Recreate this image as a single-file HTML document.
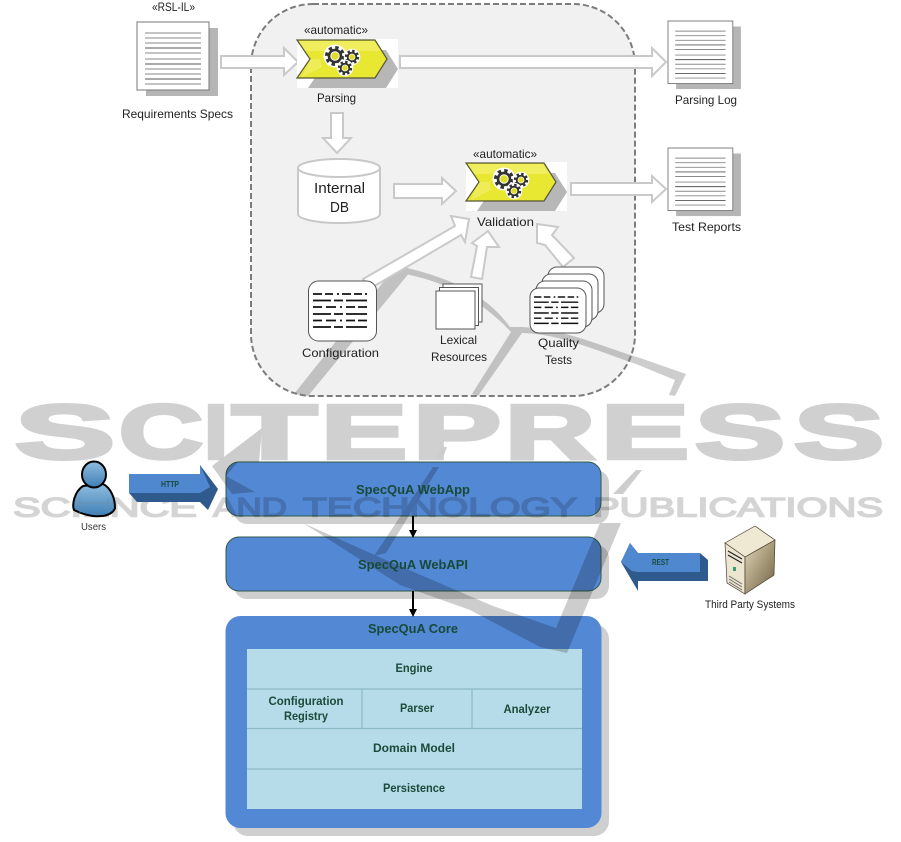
<!DOCTYPE html>
<html><head><meta charset="utf-8"><style>
html,body{margin:0;padding:0;background:#fff;width:901px;height:842px;overflow:hidden}
svg{display:block}
text{font-family:"Liberation Sans",sans-serif}
.l{font-size:12px;fill:#222}
.b{font-size:12px;font-weight:bold;fill:#1b4a3a;text-anchor:middle}
.h{font-size:13px;font-weight:bold;fill:#174a38;text-anchor:middle}
.wa{fill:#fff;stroke:#c9c9c9;stroke-width:2}
.dl{stroke:#111;stroke-width:1.8;fill:none}
</style></head><body>
<svg width="901" height="842" viewBox="0 0 901 842" xmlns="http://www.w3.org/2000/svg">
<defs>
<linearGradient id="blue" x1="0" y1="0" x2="0" y2="1"><stop offset="0" stop-color="#8fbde0"/><stop offset="1" stop-color="#3f7fb5"/></linearGradient>
<linearGradient id="tan" x1="0" y1="0" x2="1" y2="1"><stop offset="0" stop-color="#e0d6b8"/><stop offset="1" stop-color="#6f6040"/></linearGradient>
<g id="gear">
<circle r="11.500" fill="#fff"/>
<circle r="8" fill="none" stroke="#333" stroke-width="4" stroke-dasharray="3.2 3.08"/>
<circle r="6" fill="none" stroke="#333" stroke-width="2.6"/>
<circle r="3.800" fill="#dede2a"/>
</g>
<g id="chev">
<rect x="297" y="39" width="101" height="49" fill="#fff"/>
<polygon points="308,50 386,50 398,69 386,88 308,88 321,69" fill="#b7b7b7"/>
<polygon points="297,40 375,40 387,59 375,78 297,78 310,59" fill="#e8e832"/>
<polygon points="299,41 374,41 381,51 305,51" fill="#f0ee5c"/>
<polygon points="310,59 302,77 322,67 320,59" fill="#f3f17a" opacity=".55"/>
<polygon points="297,40 375,40 387,59 375,78 297,78 310,59" fill="none" stroke="#56563a" stroke-width="1.2"/>
<use href="#gear" transform="translate(335,56) scale(1)"/>
<use href="#gear" transform="translate(352,57) scale(.72)"/>
<use href="#gear" transform="translate(345,68) scale(.72)"/>
</g>
<g id="doc">
<rect x="9" y="6" width="72" height="68" fill="#b5b5b5"/>
<rect x="0" y="0" width="72" height="68" fill="#fff" stroke="#777" stroke-width="1"/>
<g stroke="#8a8a8a" stroke-width="1">
<path d="M8 11H64M8 16H64M8 21H64M8 31H64M8 37H64M8 47H64M8 52H64M8 62H64"/>
<path d="M8 26H64M8 42H64M8 57H64" stroke="#555"/>
</g>
</g>
<g id="dash">
<path class="dl" d="M0 0h9M12 0h8M24 0h2M29 0h9M41 0h8M52 0h2"/>
<path class="dl" d="M0 6.5h18M21 6.5h9M33 6.5h21"/>
<path class="dl" d="M0 13h9M13 13h10M27 13h2M33 13h9M45 13h9"/>
<path class="dl" d="M0 20h18M21 20h9M33 20h21"/>
<path class="dl" d="M0 26.500h9M13 26.500h10M27 26.500h2M33 26.500h9M45 26.500h9"/>
<path class="dl" d="M0 33h18M21 33h9M33 33h21"/>
</g>
</defs>

<rect width="901" height="842" fill="#fff"/>
<rect x="251" y="4" width="384" height="392" rx="62" fill="#f1f1f1"/>

<!-- lower box shadows and boxes -->
<rect x="234" y="470" width="375" height="54" rx="13" fill="#cfcfcf"/>
<rect x="234" y="545" width="375" height="54" rx="13" fill="#cfcfcf"/>
<rect x="233" y="624" width="376" height="212" rx="15" fill="#cfcfcf"/>
<rect x="226" y="462" width="375" height="54" rx="13" fill="#5388d4" stroke="#2c5a48"/>
<rect x="226" y="537" width="375" height="54" rx="13" fill="#5388d4" stroke="#2c5a48"/>
<rect x="225.500" y="616" width="376" height="212" rx="15" fill="#5388d4"/>
<rect x="247" y="649" width="335" height="160" fill="#b5dce8"/>

<!-- watermark -->
<g style="mix-blend-mode:multiply">
<g fill="#d0d0d0" stroke="#d0d0d0" stroke-width="3.500" font-weight="bold" font-size="77" stroke-linejoin="miter">
<text x="15" y="458.500" textLength="100" lengthAdjust="spacingAndGlyphs">S</text>
<text x="119" y="458.500" textLength="84" lengthAdjust="spacingAndGlyphs">C</text>
<text x="204" y="458.500" textLength="24" lengthAdjust="spacingAndGlyphs">I</text>
<text x="232" y="458.500" textLength="85" lengthAdjust="spacingAndGlyphs">T</text>
<text x="321" y="458.500" textLength="86" lengthAdjust="spacingAndGlyphs">E</text>
<text x="413" y="458.500" textLength="88" lengthAdjust="spacingAndGlyphs">P</text>
<text x="505" y="458.500" textLength="90" lengthAdjust="spacingAndGlyphs">R</text>
<text x="601" y="458.500" textLength="88" lengthAdjust="spacingAndGlyphs">E</text>
<text x="695" y="458.500" textLength="90" lengthAdjust="spacingAndGlyphs">S</text>
<text x="794" y="458.500" textLength="90" lengthAdjust="spacingAndGlyphs">S</text>
</g>
<g fill="#d4d4d4" stroke="#d4d4d4" stroke-width="1.500" font-size="27">
<text x="13" y="516.500" textLength="184" lengthAdjust="spacingAndGlyphs">SCIENCE</text>
<text x="213" y="516.500" textLength="74" lengthAdjust="spacingAndGlyphs">AND</text>
<text x="303" y="516.500" textLength="274" lengthAdjust="spacingAndGlyphs">TECHNOLOGY</text>
<text x="593" y="516.500" textLength="290" lengthAdjust="spacingAndGlyphs">PUBLICATIONS</text>
</g>
<g fill="#cdcdcd">
<polygon points="396,266 410,272 308,396 294,394"/>
<path d="M398 266C445 276 485 292 510 327L522 327C565 329 600 346 640 358L686 374L675 396L669 395L675 380L636 364C595 350 560 334 522 333L478 396L472 394L511 332C480 298 440 280 400 273Z"/>
<polygon points="447,447 442,460 436,458 441,447"/>
<polygon points="433,467 439,467 386,553 374,556"/>
<polygon points="636,470 642,470 623,494 613,494"/>
<polygon points="262,428 259,462 238,462 226,476 255,492 232,494 212,466"/>
<path d="M303 523L377 556L430 579L493 606L556 628L600 523L621 523L567 653L540 647L470 610L400 585L350 553Z"/>
</g>
</g>

<!-- panel border -->
<rect x="251" y="4" width="384" height="392" rx="62" fill="none" stroke="#7c7c7c" stroke-width="2" stroke-dasharray="6 3"/>

<!-- top documents -->
<use href="#doc" transform="translate(137,22)"/>
<use href="#doc" transform="translate(668,21) scale(.9,.92)"/>
<use href="#doc" transform="translate(668,148) scale(.9,.92)"/>

<!-- white arrows -->
<polygon class="wa" points="221,56 284,56 284,48 298,62 284,75 284,68 221,68"/>
<polygon class="wa" points="400,56 652,56 652,48 666,62 652,76 652,68 400,68"/>
<polygon class="wa" points="331,113 343,113 343,138 351,138 337,153 323,138 331,138"/>
<polygon class="wa" points="394,184 442,184 442,178 456,191 442,204 442,198 394,198"/>
<polygon class="wa" points="571,183 652,183 652,176 666,189 652,202 652,195 571,195"/>
<polygon class="wa" points="363,279 455,226 451,216 469,219 465,242 461,235 371,288"/>
<polygon class="wa" points="471,277 477,246 472,243 488,231 499,247 487,247 482,279"/>
<polygon class="wa" points="537,224 558,227 552,235 574,258 563,267 545,245 537,243"/>

<!-- chevrons -->
<use href="#chev"/>
<use href="#chev" transform="translate(169,123)"/>

<!-- DB -->
<path d="M298 168V214C298 219 316 223 339 223C362 223 380 219 380 214V168Z" fill="#fff" stroke="#c8c8c8" stroke-width="2"/>
<ellipse cx="339" cy="168" rx="41" ry="9" fill="#fff" stroke="#c8c8c8" stroke-width="2"/>
<text x="314" y="193" style="font-size:14.500px" fill="#222" textLength="51" lengthAdjust="spacingAndGlyphs">Internal</text>
<text x="330" y="212" style="font-size:14.500px" fill="#222" textLength="19" lengthAdjust="spacingAndGlyphs">DB</text>

<!-- configuration -->
<rect x="308.500" y="281" width="68" height="60" rx="10" fill="#fff" stroke="#555"/>
<use href="#dash" transform="translate(313,294)"/>

<!-- lexical -->
<rect x="443" y="284" width="39" height="38" fill="#fff" stroke="#555"/>
<rect x="439.500" y="287.500" width="39" height="38" fill="#fff" stroke="#555"/>
<rect x="436" y="291" width="39" height="38" fill="#fff" stroke="#555"/>

<!-- quality -->
<rect x="548" y="267" width="56" height="46" rx="9" fill="#fff" stroke="#555"/>
<rect x="542" y="274" width="56" height="46" rx="9" fill="#fff" stroke="#555"/>
<rect x="536" y="281" width="56" height="46" rx="9" fill="#fff" stroke="#555"/>
<rect x="530" y="288" width="56" height="45" rx="9" fill="#fff" stroke="#555"/>
<use href="#dash" transform="translate(534,297) scale(.82,.8)"/>

<!-- top labels -->
<text class="l" x="152" y="11" textLength="43" lengthAdjust="spacingAndGlyphs">«RSL-IL»</text>
<text class="l" x="122" y="118" textLength="111" lengthAdjust="spacingAndGlyphs">Requirements Specs</text>
<text class="l" x="304" y="34" textLength="64" lengthAdjust="spacingAndGlyphs">«automatic»</text>
<text class="l" x="473" y="158" textLength="64" lengthAdjust="spacingAndGlyphs">«automatic»</text>
<text class="l" x="317" y="102" textLength="39" lengthAdjust="spacingAndGlyphs">Parsing</text>
<text class="l" x="477" y="226" textLength="57" lengthAdjust="spacingAndGlyphs">Validation</text>
<text class="l" x="675" y="104" textLength="62" lengthAdjust="spacingAndGlyphs">Parsing Log</text>
<text class="l" x="672" y="231" textLength="69" lengthAdjust="spacingAndGlyphs">Test Reports</text>
<text class="l" x="302" y="357" textLength="77" lengthAdjust="spacingAndGlyphs">Configuration</text>
<text class="l" x="440" y="344" textLength="37" lengthAdjust="spacingAndGlyphs">Lexical</text>
<text class="l" x="431" y="361" textLength="56" lengthAdjust="spacingAndGlyphs">Resources</text>
<text class="l" x="538" y="347" textLength="41" lengthAdjust="spacingAndGlyphs">Quality</text>
<text class="l" x="545" y="364" textLength="27" lengthAdjust="spacingAndGlyphs">Tests</text>

<!-- lower box connectors -->
<path d="M413 516V531M413 591V610" stroke="#000" stroke-width="2"/>
<polygon points="409,530 417,530 413,538" fill="#000"/>
<polygon points="409,609 417,609 413,617" fill="#000"/>

<!-- box text -->
<text class="h" x="413" y="494" textLength="114" lengthAdjust="spacingAndGlyphs">SpecQuA WebApp</text>
<text class="h" x="413" y="569" textLength="110" lengthAdjust="spacingAndGlyphs">SpecQuA WebAPI</text>
<text class="h" x="413" y="633" textLength="90" lengthAdjust="spacingAndGlyphs">SpecQuA Core</text>

<!-- inner table -->
<path d="M247 689H582M247 728.500H582M247 769H582M362 689V728.500M472 689V728.500" stroke="#8db9c2" stroke-width="1.200" fill="none"/>
<text class="b" x="414" y="672" textLength="37" lengthAdjust="spacingAndGlyphs">Engine</text>
<text class="b" x="306" y="705" textLength="75" lengthAdjust="spacingAndGlyphs">Configuration</text>
<text class="b" x="306" y="720" textLength="44" lengthAdjust="spacingAndGlyphs">Registry</text>
<text class="b" x="417" y="712" textLength="34" lengthAdjust="spacingAndGlyphs">Parser</text>
<text class="b" x="527" y="713" textLength="47" lengthAdjust="spacingAndGlyphs">Analyzer</text>
<text class="b" x="414" y="752" textLength="82" lengthAdjust="spacingAndGlyphs">Domain Model</text>
<text class="b" x="414" y="792" textLength="62" lengthAdjust="spacingAndGlyphs">Persistence</text>

<!-- HTTP arrow -->
<polygon points="129,493 137,502 200,502 208,510 218,489 200,465 200,493" fill="#2f5a8e"/>
<polygon points="129,474 200,474 200,465 210,487 200,493 129,493" fill="#5088d0"/>
<text x="161" y="487" style="font-size:8px" font-weight="bold" fill="#174a38" textLength="18" lengthAdjust="spacingAndGlyphs">HTTP</text>

<!-- REST arrow -->
<polygon points="700,553 708,560 708,581 638,581 638,591 621,562 630,543 638,553" fill="#2f5a8e"/>
<polygon points="621,562 630,543 638,553 700,553 700,572 638,572 632,571" fill="#5088d0"/>
<text x="652" y="565" style="font-size:8px" font-weight="bold" fill="#174a38" textLength="17" lengthAdjust="spacingAndGlyphs">REST</text>

<!-- user -->
<path d="M83 486C74 492 72 505 74 510C82 514 92 517 101 516C108 516 114 512 115 508C115 498 111 488 103 484Z" fill="url(#blue)" stroke="#000" stroke-width="2"/>
<ellipse cx="94" cy="474.500" rx="12" ry="13" fill="url(#blue)" stroke="#000" stroke-width="2"/>
<path d="M80 498V513M108 498V512M78 503H110" stroke="#6f8fa8" stroke-width=".7" fill="none"/>
<text x="81" y="530" style="font-size:10.500px" fill="#333" textLength="25" lengthAdjust="spacingAndGlyphs">Users</text>

<!-- server -->
<polygon points="755,526 775,540 745,557 725,543" fill="#efe8d2" stroke="#4a4030" stroke-width=".7"/>
<polygon points="725,543 745,557 745,594 727,583" fill="#ece5cf" stroke="#4a4030" stroke-width=".7"/>
<polygon points="745,557 775,540 774,575 745,594" fill="url(#tan)" stroke="#4a4030" stroke-width=".7"/>
<path d="M728 551L742 559M728 555L742 563" stroke="#222" stroke-width="1.200"/>
<path d="M729 576L742 584M729 579L742 587M729 582L742 590" stroke="#666" stroke-width=".8"/>
<rect x="733" y="567" width="3" height="4" fill="#3c9a7a"/>
<text x="705" y="608" style="font-size:11px" fill="#222" textLength="90" lengthAdjust="spacingAndGlyphs">Third Party Systems</text>
</svg>
</body></html>
